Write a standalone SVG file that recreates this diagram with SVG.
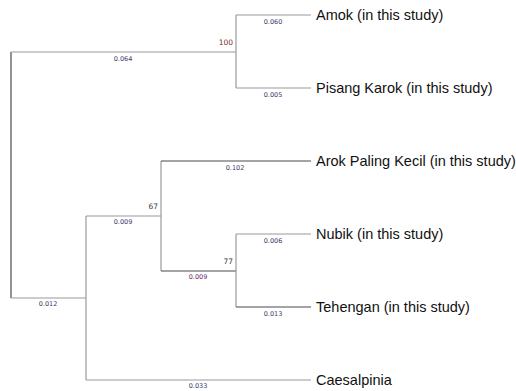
<svg xmlns="http://www.w3.org/2000/svg" width="516" height="391" viewBox="0 0 516 391">
<style>
.e{fill:none;stroke:#9a9a9a;stroke-width:1.2}
.d{fill:none;stroke:#4a4a4a;stroke-width:1.2}
.t{font-family:"Liberation Sans",Arial,sans-serif;font-size:14.5px;fill:#111}
.b{font-family:"DejaVu Sans",Tahoma,sans-serif;font-size:6.5px;fill:#3a3a6a;text-anchor:middle}
.s{font-family:"DejaVu Sans",Tahoma,sans-serif;font-size:7.5px;fill:#333;text-anchor:end}
</style>
<rect width="516" height="391" fill="#fff"/>
<g id="connectors">
<path class="d" d="M11,52V298"/>
<path class="e" d="M11,52H236"/>
<path class="e" d="M236,15V88"/>
<path class="e" d="M236,15H311"/>
<path class="e" d="M236,88H311"/>
<path class="e" d="M11,298H86"/>
<path class="e" d="M86,216V380"/>
<path class="e" d="M86,216H161"/>
<path class="e" d="M161,161V271"/>
<path class="d" d="M161,161H311"/>
<path class="d" d="M161,271H236"/>
<path class="e" d="M236,234V307"/>
<path class="e" d="M236,234H311"/>
<path class="d" d="M236,307H311"/>
<path class="e" d="M86,380H311"/>
</g>
<g id="n-amok"><text class="t" x="316" y="20">Amok (in this study)</text></g>
<g id="n-pisang"><text class="t" x="316" y="93">Pisang Karok (in this study)</text></g>
<g id="n-arok"><text class="t" x="316" y="166">Arok Paling Kecil (in this study)</text></g>
<g id="n-nubik"><text class="t" x="316" y="239">Nubik (in this study)</text></g>
<g id="n-tehengan"><text class="t" x="316" y="312">Tehengan (in this study)</text></g>
<g id="n-caesalpinia"><text class="t" x="316" y="385">Caesalpinia</text></g>
<g id="node-100"><text class="s" x="233" y="45" fill="#7a2020" style="fill:#7a2a2a">100</text></g>
<g id="node-67"><text class="s" x="158" y="209">67</text></g>
<g id="node-77"><text class="s" x="233" y="264">77</text></g>
<g id="branch-labels">
<text class="b" x="123" y="61">0.064</text>
<text class="b" x="273" y="24">0.060</text>
<text class="b" x="273" y="97">0.005</text>
<text class="b" x="235" y="170">0.102</text>
<text class="b" x="123" y="224">0.009</text>
<text class="b" x="273" y="243">0.006</text>
<text class="b" x="198" y="279" style="fill:#6a2a6a">0.009</text>
<text class="b" x="273" y="316">0.013</text>
<text class="b" x="48" y="306">0.012</text>
<text class="b" x="198" y="388">0.033</text>
</g>
</svg>
